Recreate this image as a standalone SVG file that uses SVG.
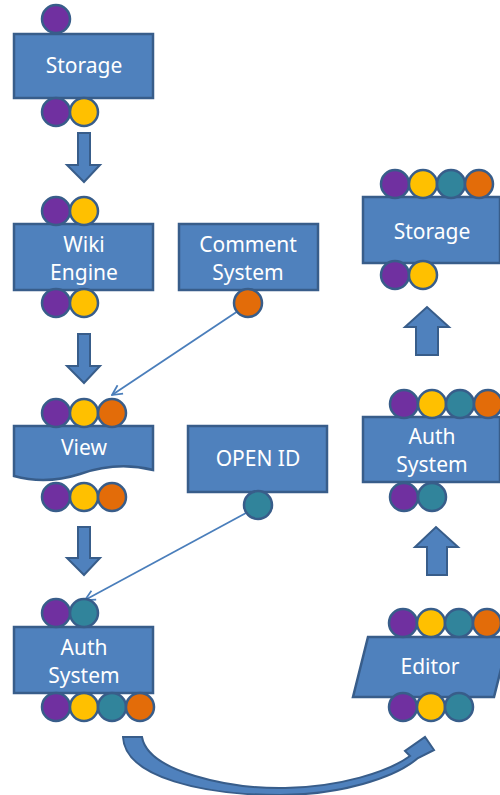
<svg xmlns="http://www.w3.org/2000/svg" width="500" height="795" viewBox="0 0 500 795">
  <defs>
    <style>
      .box { fill: #4F81BD; stroke: #385D8A; stroke-width: 2.5; }
      .blk { fill: #4F81BD; stroke: #385D8A; stroke-width: 2; stroke-linejoin: miter; }
      .lbl { font-family: "Noto Sans", "Open Sans", sans-serif; font-size: 21px; fill: #FFFFFF; text-anchor: middle; }
      .p { stroke: #385D8A; stroke-width: 2.5; }
      .pu { fill: #7030A0; }
      .ye { fill: #FFC000; }
      .te { fill: #31849B; }
      .or { fill: #E36C09; }
      .link { fill: none; stroke: #4A7EBB; stroke-width: 1.75; marker-end: url(#open); }
    </style>
    <marker id="open" viewBox="0 0 12 12" refX="11" refY="6" markerWidth="12" markerHeight="12" markerUnits="userSpaceOnUse" orient="auto">
      <path d="M1,1 L11,6 L1,11" fill="none" stroke="#4A7EBB" stroke-width="1.75"/>
    </marker>
  </defs>

  <!-- flow arrows and links -->
  <g id="connectors">
    <path class="blk" d="M78,133 H90 V165 H100 L84,182 L67,165 H78 Z"/>
    <path class="blk" d="M78,334 H90 V366 H100 L84,383 L67,366 H78 Z"/>
    <path class="blk" d="M78,527 H90 V558 H100 L84,575 L67,558 H78 Z"/>
    <path class="blk" d="M416,355 H438 V327 H449 L427,307 L405,327 H416 Z"/>
    <path class="blk" d="M427,575 H447 V547 H458 L436,527 L415,547 H427 Z"/>
    <path class="blk" d="M123,737 L142,737 C148,772 230,789 285,788 C340,787 388,772 410,756 L405,751 L425,737 L434,750 L418,758 C395,778 340,795 280,795 C205,795 125,778 123,737 Z"/>
    <line class="link" x1="238" y1="311" x2="112" y2="395"/>
    <line class="link" x1="246" y1="513" x2="85" y2="600"/>
  </g>

  <g id="storage-top">
    <rect class="box" x="14" y="34" width="139" height="64"/>
    <text class="lbl" x="84" y="73">Storage</text>
    <circle class="p pu" cx="56" cy="19" r="14"/>
    <circle class="p pu" cx="56" cy="112" r="14"/>
    <circle class="p ye" cx="84" cy="112" r="14"/>
  </g>

  <g id="wiki-engine">
    <rect class="box" x="14" y="224" width="139" height="66"/>
    <text class="lbl" x="84" y="252">Wiki</text>
    <text class="lbl" x="84" y="280">Engine</text>
    <circle class="p pu" cx="56" cy="211" r="14"/>
    <circle class="p ye" cx="84" cy="211" r="14"/>
    <circle class="p pu" cx="56" cy="303" r="14"/>
    <circle class="p ye" cx="84" cy="303" r="14"/>
  </g>

  <g id="comment-system">
    <rect class="box" x="179" y="224" width="139" height="66"/>
    <text class="lbl" x="248" y="252">Comment</text>
    <text class="lbl" x="248" y="280">System</text>
    <circle class="p or" cx="248" cy="303" r="14"/>
  </g>

  <g id="view">
    <path class="box" d="M14,426 H153 V470 C125,463 100,467 80,474 C55,482 32,481 14,476 Z"/>
    <text class="lbl" x="84" y="455">View</text>
    <circle class="p pu" cx="56" cy="413" r="14"/>
    <circle class="p ye" cx="84" cy="413" r="14"/>
    <circle class="p or" cx="112" cy="413" r="14"/>
    <circle class="p pu" cx="56" cy="497" r="14"/>
    <circle class="p ye" cx="84" cy="497" r="14"/>
    <circle class="p or" cx="112" cy="497" r="14"/>
  </g>

  <g id="open-id">
    <rect class="box" x="188" y="426" width="139" height="66"/>
    <text class="lbl" x="258" y="466">OPEN ID</text>
    <circle class="p te" cx="258" cy="505" r="14"/>
  </g>

  <g id="auth-system-left">
    <rect class="box" x="14" y="627" width="139" height="66"/>
    <text class="lbl" x="84" y="655">Auth</text>
    <text class="lbl" x="84" y="683">System</text>
    <circle class="p pu" cx="56" cy="613" r="14"/>
    <circle class="p te" cx="84" cy="613" r="14"/>
    <circle class="p pu" cx="56" cy="707" r="14"/>
    <circle class="p ye" cx="84" cy="707" r="14"/>
    <circle class="p te" cx="112" cy="707" r="14"/>
    <circle class="p or" cx="140" cy="707" r="14"/>
  </g>

  <g id="editor">
    <path class="box" d="M368,637 H509 L494,697 H353 Z"/>
    <text class="lbl" x="430" y="674">Editor</text>
    <circle class="p pu" cx="403" cy="623" r="14"/>
    <circle class="p ye" cx="431" cy="623" r="14"/>
    <circle class="p te" cx="459" cy="623" r="14"/>
    <circle class="p or" cx="487" cy="623" r="14"/>
    <circle class="p pu" cx="403" cy="707" r="14"/>
    <circle class="p ye" cx="431" cy="707" r="14"/>
    <circle class="p te" cx="459" cy="707" r="14"/>
  </g>

  <g id="auth-system-right">
    <rect class="box" x="363" y="417" width="137" height="65"/>
    <text class="lbl" x="432" y="444">Auth</text>
    <text class="lbl" x="432" y="472">System</text>
    <circle class="p pu" cx="404" cy="404" r="14"/>
    <circle class="p ye" cx="432" cy="404" r="14"/>
    <circle class="p te" cx="460" cy="404" r="14"/>
    <circle class="p or" cx="488" cy="404" r="14"/>
    <circle class="p pu" cx="404" cy="497" r="14"/>
    <circle class="p te" cx="432" cy="497" r="14"/>
  </g>

  <g id="storage-right">
    <rect class="box" x="363" y="197" width="137" height="66"/>
    <text class="lbl" x="432" y="239">Storage</text>
    <circle class="p pu" cx="395" cy="184" r="14"/>
    <circle class="p ye" cx="423" cy="184" r="14"/>
    <circle class="p te" cx="451" cy="184" r="14"/>
    <circle class="p or" cx="479" cy="184" r="14"/>
    <circle class="p pu" cx="395" cy="275" r="14"/>
    <circle class="p ye" cx="423" cy="275" r="14"/>
  </g>
</svg>
